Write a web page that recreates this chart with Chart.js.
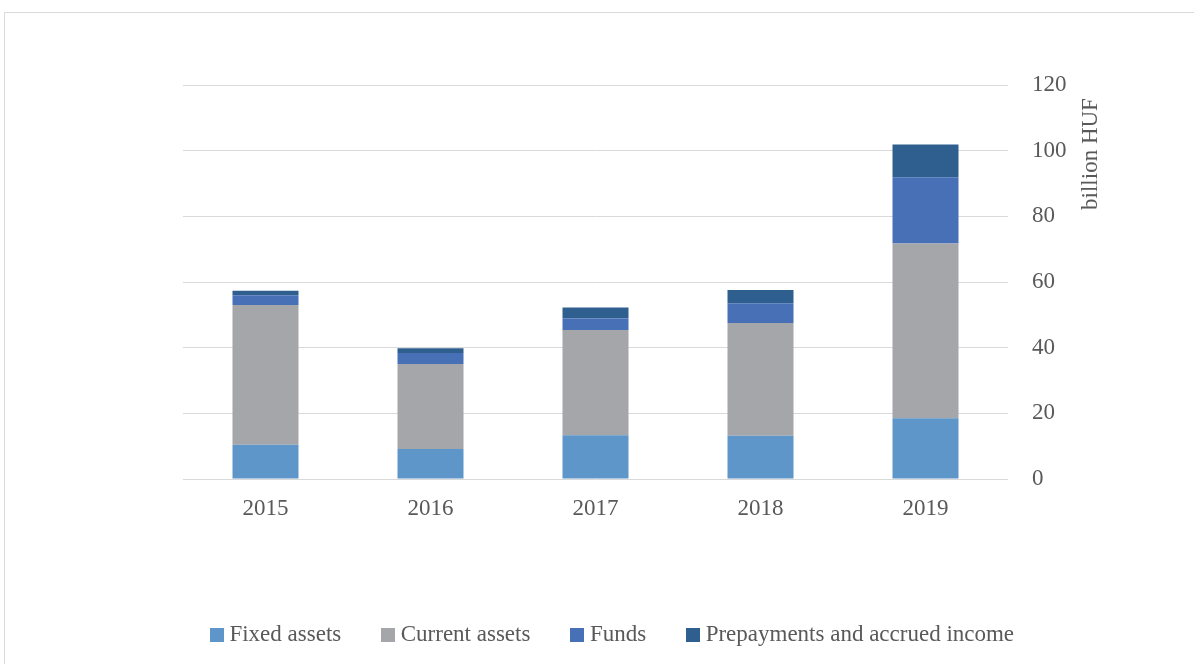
<!DOCTYPE html>
<html>
<head>
<meta charset="utf-8">
<script src="https://cdn.jsdelivr.net/npm/chart.js@4/dist/chart.umd.min.js"></script>
<style>
  html, body { margin: 0; padding: 0; background: #fff; }
  #wrap { position: relative; width: 1194px; height: 664px; overflow: hidden; }
  #frame { position: absolute; left: 4px; top: 12px; width: 1200px; height: 700px; border: 1px solid #d9d9d9; box-sizing: border-box; }
  canvas { position: absolute; left: 0; top: 0; }
</style>
</head>
<body>
<div id="wrap">
  <div id="frame"></div>
  <canvas id="c" width="1194" height="664"></canvas>
</div>
<script>
// values in billion HUF
var years = ['2015', '2016', '2017', '2018', '2019'];
var fixedAssets = [10.4, 9.1, 13.3, 13.2, 18.5];
var currentAssets = [42.6, 25.9, 32.1, 34.3, 53.2];
var funds = [3.0, 3.4, 3.5, 6.0, 20.2];
var prepayments = [1.3, 1.4, 3.3, 4.1, 10.0];

var FONT = '"Liberation Serif", "Times New Roman", serif';
var TXT = '#595959';
var PLOT_BOTTOM = 479;
var PAD_BOTTOM = 8;

// small square used as legend marker, sits closer to its text than the default box
function swatch(color) {
  var cv = document.createElement('canvas');
  cv.width = 14; cv.height = 14;
  var g = cv.getContext('2d');
  g.fillStyle = color;
  g.fillRect(0, 0, 14, 14);
  return cv;
}

// right-hand axis title reads bottom-to-top, Chart.js would rotate it the other way
var yTitle = {
  id: 'yTitle',
  afterDraw: function(chart) {
    var c = chart.ctx;
    c.save();
    c.translate(1097, 154);
    c.rotate(-Math.PI / 2);
    c.font = '23px ' + FONT;
    c.fillStyle = TXT;
    c.textAlign = 'center';
    c.textBaseline = 'alphabetic';
    c.fillText('billion HUF', 0, 0);
    c.restore();
  }
};

function ds(label, data, color) {
  return { label: label, data: data, backgroundColor: color, borderWidth: 0, barPercentage: 0.4, categoryPercentage: 1 };
}

new Chart(document.getElementById('c'), {
  type: 'bar',
  data: {
    labels: years,
    datasets: [
      ds('Fixed assets', fixedAssets, '#5f96c9'),
      ds('Current assets', currentAssets, '#a5a6a9'),
      ds('Funds', funds, '#4770b7'),
      ds('Prepayments and accrued income', prepayments, '#2f5f8e')
    ]
  },
  options: {
    responsive: false, animation: false,
    layout: { padding: { left: 36, top: 85, right: 0, bottom: PAD_BOTTOM } },
    plugins: {
      legend: {
        position: 'bottom',
        labels: {
          color: TXT, font: { family: FONT, size: 23 },
          usePointStyle: true, boxWidth: 2, boxHeight: 14, padding: 46,
          generateLabels: function(chart) {
            var items = Chart.defaults.plugins.legend.labels.generateLabels(chart);
            items.forEach(function(it, i) {
              it.pointStyle = swatch(chart.data.datasets[i].backgroundColor);
            });
            return items;
          }
        }
      },
      tooltip: { enabled: false }
    },
    scales: {
      x: {
        stacked: true,
        grid: { display: false }, border: { display: false },
        ticks: { color: TXT, font: { family: FONT, size: 23 }, padding: 8 },
        afterFit: function(ax) {
          var lg = ax.chart.legend ? ax.chart.legend.height : 0;
          ax.height = 664 - PAD_BOTTOM - lg - PLOT_BOTTOM;
        }
      },
      y: {
        stacked: true, position: 'right', min: 0, max: 120,
        grid: { color: '#d9d9d9', drawTicks: false },
        border: { display: false },
        ticks: { stepSize: 20, color: TXT, font: { family: FONT, size: 23 }, padding: 24 },
        afterFit: function(ax) { ax.width = 186; }
      },
      // empty left axis, only reserves the left margin so the legend stays centred like the original
      pad: {
        type: 'linear', position: 'left', display: true,
        grid: { display: false }, border: { display: false }, ticks: { display: false },
        afterFit: function(ax) { ax.width = 147; }
      }
    }
  },
  plugins: [yTitle]
});
</script>
</body>
</html>
